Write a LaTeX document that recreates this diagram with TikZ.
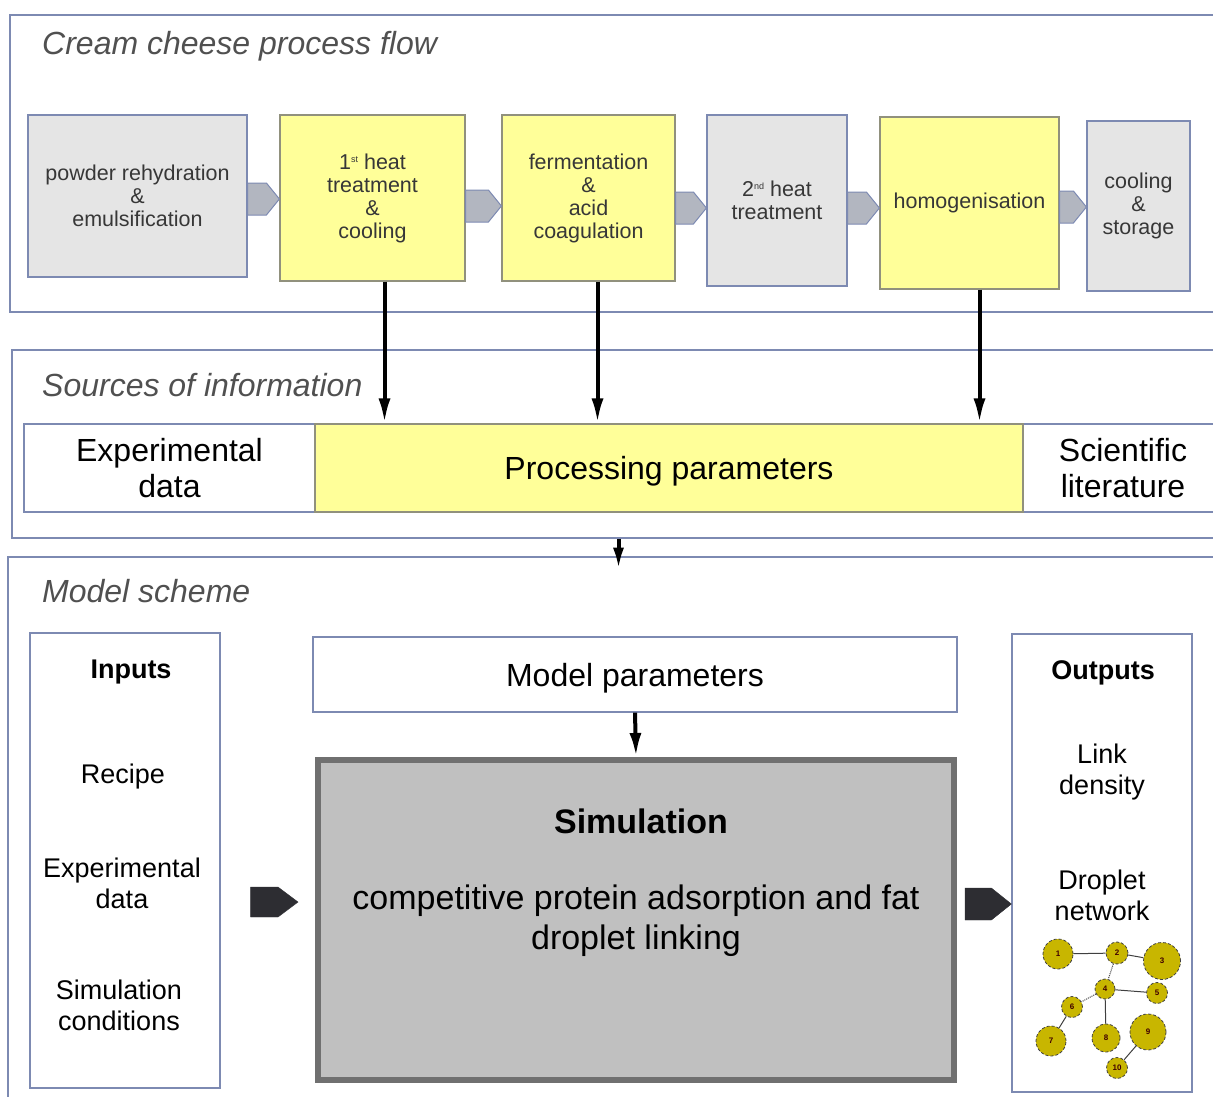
\documentclass[tikz,border=0pt]{standalone}
\usepackage{fontspec}
\setmainfont{Liberation Sans}
\usetikzlibrary{arrows.meta,calc,positioning}

\definecolor{frameblue}{RGB}{125,138,178}
\definecolor{boxgray}{RGB}{229,229,229}
\definecolor{boxyellow}{RGB}{255,255,153}
\definecolor{olivegray}{RGB}{145,145,125}
\definecolor{chevfill}{RGB}{178,182,192}
\definecolor{simfill}{RGB}{192,192,192}
\definecolor{simline}{RGB}{112,112,112}
\definecolor{darkhead}{RGB}{45,45,50}
\definecolor{titlegray}{RGB}{80,80,80}
\definecolor{steptext}{RGB}{55,55,55}
\definecolor{dropfill}{RGB}{200,182,0}

\newcommand\sptext[1]{\raisebox{7pt}{\fontsize{9}{9}\selectfont #1}}
% block arrow from node #2 to node #3 at height #4
\newcommand\chev[8][chev]{%
  \coordinate (cy) at (0,#4);
  \filldraw[#1] ($(#2.east |- cy)+(#5,-#7)$)
    -- ($(#3.west |- cy)+(-#6-#8,-#7)$)
    -- ($(#3.west |- cy)+(-#6,0)$)
    -- ($(#3.west |- cy)+(-#6-#8,#7)$)
    -- ($(#2.east |- cy)+(#5,#7)$) -- cycle;}

\tikzset{
  frame/.style={draw=frameblue, line width=1.3pt},
  title/.style={anchor=base west, inner sep=0pt, text=titlegray, font=\fontsize{32}{36}\selectfont\itshape},
  stepbox/.style={draw=frameblue, fill=boxgray, line width=1.2pt, align=center, inner sep=0pt, text=steptext, font=\fontsize{21.5}{23}\selectfont},
  stepyellow/.style={stepbox, fill=boxyellow, draw=olivegray},
  chev/.style={fill=chevfill, draw=frameblue, line width=1pt},
  bigchev/.style={fill=darkhead, draw=darkhead},
  srcbox/.style={draw=frameblue, line width=1.2pt, fill=white, align=center, inner sep=0pt, font=\fontsize{32}{36}\selectfont, minimum height=88},
  panel/.style={draw=frameblue, line width=1.3pt, fill=white},
  paneltext/.style={align=center, inner sep=0pt, font=\fontsize{27}{31}\selectfont},
  panelhead/.style={paneltext, font=\fontsize{27}{31}\selectfont\bfseries},
  simbox/.style={draw=simline, fill=simfill, line width=6pt},
  feed/.style={-{Latex[length=25pt,width=12pt]}, line width=4pt},
  drop/.style={circle, draw=black!75, densely dashed, line width=0.8pt, fill=dropfill, inner sep=0pt, font=\fontsize{8}{8}\selectfont\bfseries, text=black!75!red},
  link/.style={draw=black!75, line width=1pt},
  dotlink/.style={link, densely dotted},
}

\begin{document}
\begin{tikzpicture}[x=1pt,y=-1pt]
\useasboundingbox (0,0) rectangle (1213,1097);

% frames
\node[frame, minimum width=1215, minimum height=297] (flow) at (617.5,163.5) {};
\node[frame, minimum width=1213, minimum height=188] (sources) at (618.5,444) {};
\node[frame, minimum width=1217, minimum height=553] (model) at (616.5,833.5) {};
\node[title] (flowtitle) at (42,55) {Cream cheese process flow};
\node[title] (srctitle) at (42,396) {Sources of information};
\node[title] (modeltitle) at (42,602) {Model scheme};

% process flow
\node[stepbox, minimum width=219, minimum height=162] (rehyd) at (137.5,196) {powder rehydration\\\&\\emulsification};
\node[stepyellow, minimum width=185, minimum height=166] (heat1) at (372.5,198) {1\sptext{st} heat\\treatment\\\&\\cooling};
\node[stepyellow, minimum width=173, minimum height=166] (ferm) at (588.5,198) {fermentation\\\&\\acid\\coagulation};
\node[stepbox, minimum width=140, minimum height=171] (heat2) at (777,200.5) {2\sptext{nd} heat\\treatment};
\node[stepyellow, minimum width=179, minimum height=172] (homog) at (969.5,203) {homogenisation};
\node[stepbox, minimum width=103, minimum height=170] (store) at (1138.5,206) {cooling\\\&\\storage};

\chev{rehyd}{heat1}{199}{0}{0}{16}{13}
\chev{heat1}{ferm}{206}{0}{0}{16}{13}
\chev{ferm}{heat2}{208}{0}{0}{16}{13}
\chev{heat2}{homog}{208}{0}{0}{16}{13}
\chev{homog}{store}{207}{0}{0}{16}{13}

% sources of information
\node[srcbox, minimum width=291] (expdata) at (169.5,468) {Experimental\\data};
\node[srcbox, minimum width=200] (lit) at (1123,468) {Scientific\\literature};
\node[srcbox, minimum width=708, fill=boxyellow, draw=olivegray, text depth=0pt] (proc) at (669,468) {Processing parameters};

\coordinate (f1) at ([xshift=12pt]heat1.south);
\coordinate (f2) at ([xshift=9pt]ferm.south);
\coordinate (f3) at ([xshift=10pt]homog.south);
\draw[feed] (f1) -- (f1 |- proc.north);
\draw[feed] (f2) -- (f2 |- proc.north);
\draw[feed] (f3) -- (f3 |- proc.north);
\draw[feed, -{Latex[length=22pt,width=11pt]}] (sources.south) -- ++(0,31);

% model scheme
\node[panel, minimum width=190, minimum height=455] (inputs) at (125,860.5) {};
\node[panelhead] (inhead) at (131,672) {Inputs};
\node[paneltext] (recipe) at (123,777) {Recipe};
\node[paneltext] (inexp) at (122,883) {Experimental\\data};
\node[paneltext] (incond) at (119,1005) {Simulation\\conditions};

\node[panel, minimum width=644, minimum height=75, font=\fontsize{32}{36}\selectfont, text depth=0pt] (mpar) at (635,674.5) {Model parameters};
\node[simbox, minimum width=636, minimum height=320] (sim) at (636,920) {};
\node[font=\fontsize{34}{40}\selectfont\bfseries] (simhead) at (641,821) {Simulation};
\node[align=center, font=\fontsize{34}{40}\selectfont] (simtext) at (636,921) {competitive protein adsorption and fat\\droplet linking};
\draw[feed, -{Latex[length=24pt,width=12pt]}] (mpar.south) -- (sim.north);

\node[panel, minimum width=180, minimum height=458] (outputs) at (1102,863) {};
\node[panelhead] (outhead) at (1103,673) {Outputs};
\node[paneltext] (density) at (1102,772) {Link\\density};
\node[paneltext] (network) at (1102,895) {Droplet\\network};

\chev[bigchev]{inputs}{sim}{902}{30}{17}{15}{20}
\chev[bigchev]{sim}{outputs}{904}{8}{0}{16}{20}

% droplet network
\foreach \n/\x/\y/\d in {1/1058/954/30, 2/1117/953/22, 3/1162/961/37, 4/1105/989/20,
  5/1157/993/21, 6/1072/1007/21, 7/1051/1041/30, 8/1106/1038/28, 9/1148/1032/36, 10/1117/1068/21}
  \node[drop, minimum size=\d] (d\n) at (\x,\y) {\n};
\draw[link] (d1) -- (d2);
\draw[link] (d2) -- (d3);
\draw[dotlink] (d2) -- (d4);
\draw[link] (d4) -- (d5);
\draw[dotlink] (d4) -- (d6);
\draw[link] (d4) -- (d8);
\draw[link] (d6) -- (d7);
\draw[link] (d9) -- (d10);

\end{tikzpicture}
\end{document}
